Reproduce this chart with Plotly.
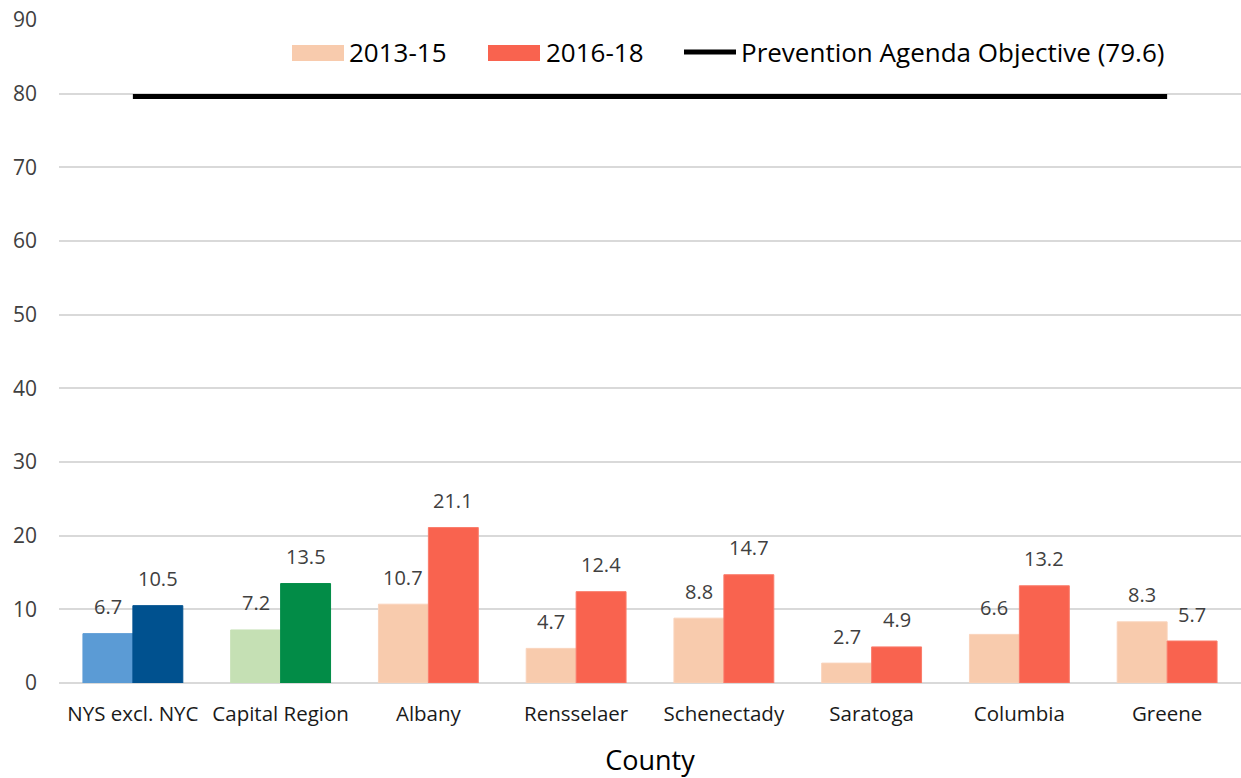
import plotly.graph_objects as go

# Rates by county, two periods, plus the Prevention Agenda objective
categories = ["NYS excl. NYC", "Capital Region", "Albany", "Rensselaer",
              "Schenectady", "Saratoga", "Columbia", "Greene"]
rate_2013_15 = [6.7, 7.2, 10.7, 4.7, 8.8, 2.7, 6.6, 8.3]
rate_2016_18 = [10.5, 13.5, 21.1, 12.4, 14.7, 4.9, 13.2, 5.7]
objective = 79.6
y_ticks = [0, 10, 20, 30, 40, 50, 60, 70, 80, 90]

# State and region bars get their own palettes; counties share the legend colours
PEACH, CORAL = "#F8CBAD", "#F9634F"
colors_2013_15 = ["#5B9BD5", "#C5E0B4"] + [PEACH] * 6
colors_2016_18 = ["#00518F", "#028C47"] + [CORAL] * 6
edge_2013_15 = ["#5B9BD5", "#C5E0B4"] + ["#FAD3BB"] * 6
edge_2016_18 = ["#00518F", "#028C47"] + ["#FA7C6B"] * 6

FONT = "Open Sans"
W, H = 1241, 778
M = dict(l=59, r=0, t=20, b=95)
PW, PH = W - M["l"] - M["r"], H - M["t"] - M["b"]


def px_x(px):
    return (px - M["l"]) / PW


def px_y(py):
    return (H - M["b"] - py) / PH


fig = go.Figure()
fig.add_trace(go.Bar(
    x=categories, y=rate_2013_15, name="2013-15",
    marker=dict(color=colors_2013_15, line=dict(color=edge_2013_15, width=1)),
    showlegend=False,
))
fig.add_trace(go.Bar(
    x=categories, y=rate_2016_18, name="2016-18",
    marker=dict(color=colors_2016_18, line=dict(color=edge_2016_18, width=1)),
    showlegend=False,
))
fig.add_trace(go.Scatter(
    x=categories, y=[objective] * len(categories), mode="lines",
    name="Prevention Agenda Objective (79.6)",
    line=dict(color="black", width=5), showlegend=False,
))

annotations = []
for cat, v in zip(categories, rate_2013_15):
    annotations.append(dict(x=cat, y=v, text=f"{v:.1f}", showarrow=False,
                            xshift=-25, yshift=27, yanchor="middle",
                            font=dict(family=FONT, size=20, color="#404040")))
for cat, v in zip(categories, rate_2016_18):
    annotations.append(dict(x=cat, y=v, text=f"{v:.1f}", showarrow=False,
                            xshift=25, yshift=27, yanchor="middle",
                            font=dict(family=FONT, size=20, color="#404040")))

# Legend drawn as keys + labels across the top of the plot
shapes = [
    dict(type="rect", xref="paper", yref="paper",
         x0=px_x(292), x1=px_x(344), y0=px_y(61), y1=px_y(45),
         fillcolor=PEACH, line=dict(width=0)),
    dict(type="rect", xref="paper", yref="paper",
         x0=px_x(488), x1=px_x(540), y0=px_y(61), y1=px_y(45),
         fillcolor=CORAL, line=dict(width=0)),
    dict(type="line", xref="paper", yref="paper",
         x0=px_x(684), x1=px_x(736), y0=px_y(52), y1=px_y(52),
         line=dict(color="black", width=5)),
]
for label, left in [("2013-15", 347), ("2016-18", 544),
                    ("Prevention Agenda Objective (79.6)", 739)]:
    annotations.append(dict(xref="paper", yref="paper", x=px_x(left), y=px_y(52),
                            text=label, showarrow=False, xanchor="left",
                            yanchor="middle",
                            font=dict(family=FONT, size=26, color="black")))

fig.update_layout(
    width=W, height=H, margin=M,
    paper_bgcolor="white", plot_bgcolor="white",
    barmode="group", bargap=0.324, bargroupgap=0,
    font=dict(family=FONT),
    shapes=shapes, annotations=annotations,
    xaxis=dict(
        type="category", showgrid=False, showline=False, ticks="",
        tickfont=dict(family=FONT, size=20.5, color="#1A1A1A"),
        ticklabelstandoff=16,
        title=dict(text="County", standoff=31,
                   font=dict(family=FONT, size=27, color="black")),
    ),
    yaxis=dict(
        range=[0, 90], tickvals=y_ticks, showline=False, ticks="",
        gridcolor="#D9D9D9", gridwidth=2,
        zeroline=True, zerolinecolor="#D9D9D9", zerolinewidth=2,
        tickfont=dict(family=FONT, size=21, color="#404040"),
        ticklabelstandoff=21,
    ),
)

fig.write_html("out.html")
